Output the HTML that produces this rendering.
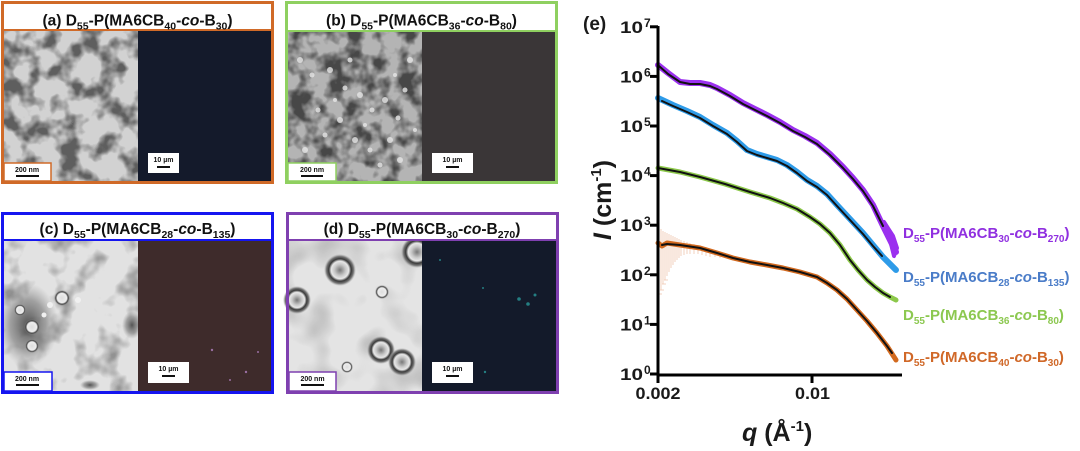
<!DOCTYPE html>
<html><head><meta charset="utf-8">
<style>
html,body{margin:0;padding:0;background:#fff;}
svg{display:block;}
.t{font-family:"Liberation Sans",Arial,sans-serif;font-weight:bold;font-size:15.5px;fill:#111;}
.s{font-size:10.5px;}
.sb{font-family:"Liberation Sans",Arial,sans-serif;font-weight:bold;font-size:7px;fill:#111;}
.ax{font-family:"Liberation Sans",Arial,sans-serif;font-weight:bold;fill:#1a1a1a;}
.lg{font-family:"Liberation Sans",Arial,sans-serif;font-weight:bold;font-size:15px;}
.ls{font-size:10px;}
</style></head>
<body>
<svg width="1080" height="451" viewBox="0 0 1080 451" xmlns="http://www.w3.org/2000/svg">
<defs>
<filter id="fa" x="0" y="0" width="1" height="1">
 <feTurbulence type="fractalNoise" baseFrequency="0.05" numOctaves="3" seed="4"/>
 <feColorMatrix type="matrix" values="0 0 0 0 0  0 0 0 0 0  0 0 0 0 0  -3.5 0 0 0 2.0"/>
 <feComposite in2="SourceGraphic" operator="in"/>
</filter>
<filter id="fb" x="0" y="0" width="1" height="1">
 <feTurbulence type="fractalNoise" baseFrequency="0.055" numOctaves="3" seed="9"/>
 <feColorMatrix type="matrix" values="0 0 0 0 0  0 0 0 0 0  0 0 0 0 0  -3.5 0 0 0 2.1"/>
 <feComposite in2="SourceGraphic" operator="in"/>
</filter>
<filter id="fc" x="0" y="0" width="1" height="1">
 <feTurbulence type="fractalNoise" baseFrequency="0.04" numOctaves="3" seed="17"/>
 <feColorMatrix type="matrix" values="0 0 0 0 0  0 0 0 0 0  0 0 0 0 0  -3 0 0 0 1.5"/>
 <feComposite in2="SourceGraphic" operator="in"/>
</filter>
<filter id="fd" x="0" y="0" width="1" height="1">
 <feTurbulence type="fractalNoise" baseFrequency="0.03" numOctaves="2" seed="23"/>
 <feColorMatrix type="matrix" values="0 0 0 0 0  0 0 0 0 0  0 0 0 0 0  -1.5 0 0 0 0.8"/>
 <feComposite in2="SourceGraphic" operator="in"/>
</filter>
<radialGradient id="cloud">
 <stop offset="0" stop-color="#303030" stop-opacity="0.8"/>
 <stop offset="0.6" stop-color="#505050" stop-opacity="0.45"/>
 <stop offset="1" stop-color="#707070" stop-opacity="0"/>
</radialGradient>
<radialGradient id="ves">
 <stop offset="0" stop-color="#777"/>
 <stop offset="0.35" stop-color="#c8c8c8"/>
 <stop offset="0.55" stop-color="#e8e8e8"/>
 <stop offset="0.7" stop-color="#3a3a3a"/>
 <stop offset="0.85" stop-color="#777"/>
 <stop offset="1" stop-color="#aaa" stop-opacity="0"/>
</radialGradient>
<radialGradient id="vs">
 <stop offset="0" stop-color="#ddd"/>
 <stop offset="0.6" stop-color="#eee"/>
 <stop offset="0.78" stop-color="#444"/>
 <stop offset="1" stop-color="#999" stop-opacity="0"/>
</radialGradient>
</defs>

<!-- ===== Panel (a) ===== -->
<rect x="4" y="31" width="134" height="150" fill="#d2d2d2"/>
<rect x="4" y="31" width="134" height="150" fill="#000" opacity="0.55" filter="url(#fa)"/>
<rect x="138" y="31" width="133" height="150" fill="#141a2b"/>
<rect x="2.5" y="2.5" width="270" height="180" fill="none" stroke="#d06a28" stroke-width="3"/>
<rect x="4" y="4" width="267" height="25" fill="#fff"/>
<line x1="3" y1="30" x2="272" y2="30" stroke="#d06a28" stroke-width="2"/>
<text class="t" x="137.5" y="25.5" text-anchor="middle">(a) D<tspan class="s" dy="4">55</tspan><tspan dy="-4">-P(MA6CB</tspan><tspan class="s" dy="4">40</tspan><tspan dy="-4">-</tspan><tspan font-style="italic">co</tspan>-B<tspan class="s" dy="4">30</tspan><tspan dy="-4">)</tspan></text>
<rect x="4" y="163" width="47" height="18" fill="#fff" stroke="#d06a28" stroke-width="1.5"/>
<text class="sb" x="27" y="172" text-anchor="middle">200 nm</text>
<rect x="16" y="175" width="23" height="2" fill="#111"/>
<rect x="148" y="153" width="31" height="20" fill="#fff"/>
<text class="sb" x="163.5" y="162" text-anchor="middle">10 µm</text>
<rect x="157" y="166" width="13" height="2" fill="#111"/>

<!-- ===== Panel (b) ===== -->
<rect x="288" y="32" width="134" height="149" fill="#b4b4b4"/>
<rect x="288" y="32" width="134" height="149" fill="#000" opacity="0.6" filter="url(#fb)"/>
<g fill="#e6e6e6" opacity="0.8">
<circle cx="300" cy="60" r="3"/><circle cx="312" cy="75" r="2.5"/><circle cx="330" cy="70" r="3"/><circle cx="345" cy="88" r="2.5"/>
<circle cx="360" cy="95" r="3"/><circle cx="372" cy="110" r="2.5"/><circle cx="385" cy="100" r="3"/><circle cx="398" cy="118" r="2.5"/>
<circle cx="340" cy="120" r="3"/><circle cx="325" cy="135" r="2.5"/><circle cx="355" cy="140" r="3"/><circle cx="370" cy="150" r="2.5"/>
<circle cx="390" cy="140" r="3"/><circle cx="405" cy="90" r="2.5"/><circle cx="410" cy="60" r="3"/><circle cx="350" cy="60" r="2.5"/>
<circle cx="318" cy="110" r="2.5"/><circle cx="305" cy="150" r="3"/><circle cx="380" cy="165" r="2.5"/><circle cx="400" cy="160" r="3"/>
<circle cx="365" cy="125" r="2"/><circle cx="335" cy="100" r="2"/><circle cx="395" cy="75" r="2"/><circle cx="415" cy="130" r="2"/>
</g>
<rect x="422" y="32" width="133" height="149" fill="#3a3637"/>
<rect x="286.5" y="2.5" width="270" height="180" fill="none" stroke="#8fd060" stroke-width="3"/>
<rect x="288" y="4" width="267" height="26" fill="#fff"/>
<line x1="287" y1="31" x2="556" y2="31" stroke="#8fd060" stroke-width="2"/>
<text class="t" x="421.5" y="25.5" text-anchor="middle">(b) D<tspan class="s" dy="4">55</tspan><tspan dy="-4">-P(MA6CB</tspan><tspan class="s" dy="4">36</tspan><tspan dy="-4">-</tspan><tspan font-style="italic">co</tspan>-B<tspan class="s" dy="4">80</tspan><tspan dy="-4">)</tspan></text>
<rect x="288" y="163" width="48" height="18" fill="#fff" stroke="#8fd060" stroke-width="1.5"/>
<text class="sb" x="312" y="172" text-anchor="middle">200 nm</text>
<rect x="301" y="175" width="22" height="2" fill="#111"/>
<rect x="432" y="153" width="41" height="20" fill="#fff"/>
<text class="sb" x="452.5" y="162" text-anchor="middle">10 µm</text>
<rect x="446" y="166" width="13" height="2" fill="#111"/>

<!-- ===== Panel (c) ===== -->
<rect x="4" y="241" width="134" height="150" fill="#e2e2e2"/>
<rect x="4" y="241" width="134" height="150" fill="#000" opacity="0.35" filter="url(#fc)"/>
<ellipse cx="28" cy="325" rx="30" ry="42" fill="url(#cloud)"/>
<ellipse cx="132" cy="325" rx="10" ry="14" fill="url(#cloud)"/>
<ellipse cx="90" cy="385" rx="10" ry="5" fill="url(#cloud)"/>
<circle cx="62" cy="298" r="8" fill="url(#vs)"/>
<circle cx="32" cy="327" r="8" fill="url(#vs)"/>
<circle cx="32" cy="346" r="7" fill="url(#vs)"/>
<circle cx="20" cy="310" r="6" fill="url(#vs)"/>
<circle cx="78" cy="300" r="3" fill="#f0f0f0"/><circle cx="50" cy="305" r="3" fill="#f0f0f0"/><circle cx="44" cy="315" r="2.5" fill="#f0f0f0"/>
<rect x="138" y="241" width="133" height="150" fill="#3e2b2b"/>
<rect x="2.5" y="213.5" width="270" height="179" fill="none" stroke="#1515f0" stroke-width="3"/>
<rect x="4" y="215" width="267" height="24" fill="#fff"/>
<line x1="3" y1="240" x2="272" y2="240" stroke="#1515f0" stroke-width="2"/>
<text class="t" x="137.5" y="234" text-anchor="middle">(c) D<tspan class="s" dy="4">55</tspan><tspan dy="-4">-P(MA6CB</tspan><tspan class="s" dy="4">28</tspan><tspan dy="-4">-</tspan><tspan font-style="italic">co</tspan>-B<tspan class="s" dy="4">135</tspan><tspan dy="-4">)</tspan></text>
<rect x="4" y="372" width="48" height="19" fill="#fff" stroke="#1515f0" stroke-width="1.5"/>
<text class="sb" x="27" y="381" text-anchor="middle">200 nm</text>
<rect x="16" y="384" width="23" height="2" fill="#111"/>
<rect x="148" y="362" width="41" height="21" fill="#fff"/>
<text class="sb" x="168.5" y="371" text-anchor="middle">10 µm</text>
<rect x="162" y="375" width="13" height="2" fill="#111"/>
<g fill="#b080c0" opacity="0.8"><circle cx="212" cy="350" r="1.2"/><circle cx="246" cy="372" r="1.2"/><circle cx="230" cy="380" r="1"/><circle cx="258" cy="352" r="1"/></g>

<!-- ===== Panel (d) ===== -->
<rect x="288" y="241" width="134" height="150" fill="#e4e4e4"/>
<rect x="288" y="241" width="134" height="150" fill="#000" opacity="0.3" filter="url(#fd)"/>
<circle cx="340" cy="270" r="16" fill="url(#ves)"/>
<circle cx="297" cy="300" r="14" fill="url(#ves)"/>
<circle cx="382" cy="292" r="7" fill="url(#vs)"/>
<circle cx="417" cy="252" r="16" fill="url(#ves)"/>
<circle cx="381" cy="350" r="14" fill="url(#ves)"/>
<circle cx="402" cy="362" r="14" fill="url(#ves)"/>
<circle cx="347" cy="367" r="6" fill="url(#vs)"/>
<rect x="422" y="241" width="134" height="150" fill="#131a2a"/>
<g fill="#2aa0a0" opacity="0.75"><circle cx="519" cy="299" r="1.8"/><circle cx="528" cy="304" r="1.8"/><circle cx="535" cy="295" r="1.5"/><circle cx="483" cy="288" r="1"/><circle cx="485" cy="372" r="1.2"/><circle cx="440" cy="260" r="1"/></g>
<rect x="287.5" y="213.5" width="270" height="179" fill="none" stroke="#7f40b0" stroke-width="3"/>
<rect x="289" y="215" width="267" height="24" fill="#fff"/>
<line x1="288" y1="240" x2="557" y2="240" stroke="#7f40b0" stroke-width="2"/>
<text class="t" x="422" y="234" text-anchor="middle">(d) D<tspan class="s" dy="4">55</tspan><tspan dy="-4">-P(MA6CB</tspan><tspan class="s" dy="4">30</tspan><tspan dy="-4">-</tspan><tspan font-style="italic">co</tspan>-B<tspan class="s" dy="4">270</tspan><tspan dy="-4">)</tspan></text>
<rect x="289" y="372" width="47" height="19" fill="#fff" stroke="#7f40b0" stroke-width="1.5"/>
<text class="sb" x="312.5" y="381" text-anchor="middle">200 nm</text>
<rect x="301" y="384" width="23" height="2" fill="#111"/>
<rect x="432" y="362" width="41" height="21" fill="#fff"/>
<text class="sb" x="452.5" y="371" text-anchor="middle">10 µm</text>
<rect x="446" y="375" width="13" height="2" fill="#111"/>

<!-- ===== Chart (e) ===== -->
<text class="ax" x="583" y="30" font-size="19">(e)</text>

<!-- error bars -->
<g stroke="#e09060" stroke-width="0.8" opacity="0.5">
<line x1="659" y1="228" x2="659" y2="294"/><line x1="661" y1="229" x2="661" y2="290"/>
<line x1="663" y1="231" x2="663" y2="284"/><line x1="665" y1="232" x2="665" y2="280"/>
<line x1="667" y1="233" x2="667" y2="276"/><line x1="669" y1="234" x2="669" y2="272"/>
<line x1="671" y1="235" x2="671" y2="268"/><line x1="673" y1="236" x2="673" y2="265"/>
<line x1="675" y1="237" x2="675" y2="262"/><line x1="677" y1="238" x2="677" y2="260"/>
<line x1="679" y1="239" x2="679" y2="258"/><line x1="681" y1="240" x2="681" y2="256"/>
<line x1="684" y1="241" x2="684" y2="255"/><line x1="687" y1="242" x2="687" y2="254"/>
<line x1="690" y1="243" x2="690" y2="254"/><line x1="694" y1="244" x2="694" y2="254"/>
<line x1="698" y1="245" x2="698" y2="254"/><line x1="702" y1="246" x2="702" y2="255"/>
<line x1="706" y1="247" x2="706" y2="256"/><line x1="710" y1="249" x2="710" y2="257"/>
<line x1="715" y1="250" x2="715" y2="257"/><line x1="720" y1="252" x2="720" y2="258"/>
<line x1="657" y1="294" x2="662" y2="294"/><line x1="660" y1="290" x2="664" y2="290"/><line x1="662" y1="284" x2="666" y2="284"/><line x1="664" y1="280" x2="668" y2="280"/>
</g>

<g fill="none" stroke-linejoin="round" stroke-linecap="round">
<!-- purple -->
<polyline stroke="#9b30ef" stroke-width="6" points="658,65 668,73 680,82 690,83 700,83 710,85 717,88 730,95 743,103 755,109 767,115 780,122 793,130 805,136 817,143 830,154 843,167 853,178 863,190 873,205 883,226 890,240 896,252"/>
<polyline stroke="#9b30ef" stroke-width="4" points="884,222 893,236 897,248 894,256 891,244"/>
<polyline stroke="#111" stroke-width="2" points="659,66 668,74 680,82 690,84 700,84 710,86 717,89 730,96 743,104 755,110 767,116 780,123 793,131 805,137 817,144 830,155 843,168 853,179 863,191 873,206 883,226"/>
<!-- blue -->
<polyline stroke="#2e9be8" stroke-width="6" points="658,98 673,105 687,111 700,117 713,125 727,133 737,141 747,150 757,154 767,157 777,160 787,165 797,172 807,180 817,186 827,194 837,205 850,219 863,233 873,245 883,257 890,264 896,270"/>
<polyline stroke="#111" stroke-width="2" points="662,101 673,106 687,112 700,118 713,126 727,134 737,142 747,151 757,155 767,158 777,161 787,166 797,173 807,181 817,187 827,195 837,206 850,220 863,234 873,246 882,256"/>
<!-- green -->
<polyline stroke="#8cc84a" stroke-width="5" points="658,168 680,172 700,177 725,184 750,192 770,198 783,203 797,209 810,217 820,224 830,233 840,245 850,260 858,270 867,280 875,287 883,293 890,297 896,300"/>
<polyline stroke="#111" stroke-width="2" points="658,168 680,172 700,177 725,184 750,192 770,198 783,203 797,209 810,217 820,224 830,233 840,245 850,260 858,270 867,280 875,287 883,293 890,297"/>
<!-- orange -->
<polyline stroke="#d2691e" stroke-width="5" points="658,243 662,246 667,243 680,245 700,248 717,253 733,258 750,262 767,265 783,268 800,272 817,277 827,283 837,290 847,299 857,310 867,321 877,333 887,346 896,360"/>
<polyline stroke="#111" stroke-width="2" points="662,245 667,244 680,245 700,248 717,253 733,258 750,262 767,265 783,268 800,272 817,277 827,283 837,290 847,299 857,310 867,321 877,333 887,346 892,353"/>
</g>

<!-- axes -->
<g stroke="#000" stroke-width="3" fill="none">
<line x1="658" y1="26" x2="658" y2="376"/>
<line x1="656.5" y1="375" x2="902" y2="375"/>
<line x1="650" y1="26.8" x2="658" y2="26.8"/>
<line x1="650" y1="76.4" x2="658" y2="76.4"/>
<line x1="650" y1="126" x2="658" y2="126"/>
<line x1="650" y1="175.6" x2="658" y2="175.6"/>
<line x1="650" y1="225.2" x2="658" y2="225.2"/>
<line x1="650" y1="274.8" x2="658" y2="274.8"/>
<line x1="650" y1="324.4" x2="658" y2="324.4"/>
<line x1="650" y1="374" x2="658" y2="374"/>
<line x1="658" y1="375" x2="658" y2="383"/>
<line x1="812" y1="375" x2="812" y2="383"/>
</g>

<!-- y tick labels -->
<g class="ax">
<text x="620" y="33" font-size="17" textLength="23" lengthAdjust="spacingAndGlyphs">10</text><text x="644" y="27" font-size="12">7</text>
<text x="620" y="82.5" font-size="17" textLength="23" lengthAdjust="spacingAndGlyphs">10</text><text x="644" y="76.5" font-size="12">6</text>
<text x="620" y="132" font-size="17" textLength="23" lengthAdjust="spacingAndGlyphs">10</text><text x="644" y="126" font-size="12">5</text>
<text x="620" y="181.5" font-size="17" textLength="23" lengthAdjust="spacingAndGlyphs">10</text><text x="644" y="175.5" font-size="12">4</text>
<text x="620" y="231" font-size="17" textLength="23" lengthAdjust="spacingAndGlyphs">10</text><text x="644" y="225" font-size="12">3</text>
<text x="620" y="281" font-size="17" textLength="23" lengthAdjust="spacingAndGlyphs">10</text><text x="644" y="275" font-size="12">2</text>
<text x="620" y="330.5" font-size="17" textLength="23" lengthAdjust="spacingAndGlyphs">10</text><text x="644" y="324.5" font-size="12">1</text>
<text x="620" y="380" font-size="17" textLength="23" lengthAdjust="spacingAndGlyphs">10</text><text x="644" y="374" font-size="12">0</text>
</g>
<!-- x tick labels -->
<text class="ax" x="635.5" y="399" font-size="17" textLength="45" lengthAdjust="spacingAndGlyphs">0.002</text>
<text class="ax" x="795" y="399" font-size="17" textLength="35" lengthAdjust="spacingAndGlyphs">0.01</text>

<!-- axis titles -->
<text class="ax" x="742" y="441" font-size="25"><tspan font-style="italic">q</tspan> (Å<tspan font-size="15" dy="-10">-1</tspan><tspan dy="10">)</tspan></text>
<text class="ax" font-size="25" transform="translate(611,200) rotate(-90)" text-anchor="middle"><tspan font-style="italic">I</tspan> (cm<tspan font-size="15" dy="-10">-1</tspan><tspan dy="10">)</tspan></text>

<!-- legend labels -->
<text class="lg" x="903" y="238" fill="#9030e0">D<tspan class="ls" dy="4">55</tspan><tspan dy="-4">-P(MA6CB</tspan><tspan class="ls" dy="4">30</tspan><tspan dy="-4">-</tspan><tspan font-style="italic">co</tspan>-B<tspan class="ls" dy="4">270</tspan><tspan dy="-4">)</tspan></text>
<text class="lg" x="903" y="282" fill="#4a7cc8">D<tspan class="ls" dy="4">55</tspan><tspan dy="-4">-P(MA6CB</tspan><tspan class="ls" dy="4">28</tspan><tspan dy="-4">-</tspan><tspan font-style="italic">co</tspan>-B<tspan class="ls" dy="4">135</tspan><tspan dy="-4">)</tspan></text>
<text class="lg" x="903" y="320" fill="#8cc850">D<tspan class="ls" dy="4">55</tspan><tspan dy="-4">-P(MA6CB</tspan><tspan class="ls" dy="4">36</tspan><tspan dy="-4">-</tspan><tspan font-style="italic">co</tspan>-B<tspan class="ls" dy="4">80</tspan><tspan dy="-4">)</tspan></text>
<text class="lg" x="903" y="362" fill="#d06828">D<tspan class="ls" dy="4">55</tspan><tspan dy="-4">-P(MA6CB</tspan><tspan class="ls" dy="4">40</tspan><tspan dy="-4">-</tspan><tspan font-style="italic">co</tspan>-B<tspan class="ls" dy="4">30</tspan><tspan dy="-4">)</tspan></text>
</svg>
</body></html>
